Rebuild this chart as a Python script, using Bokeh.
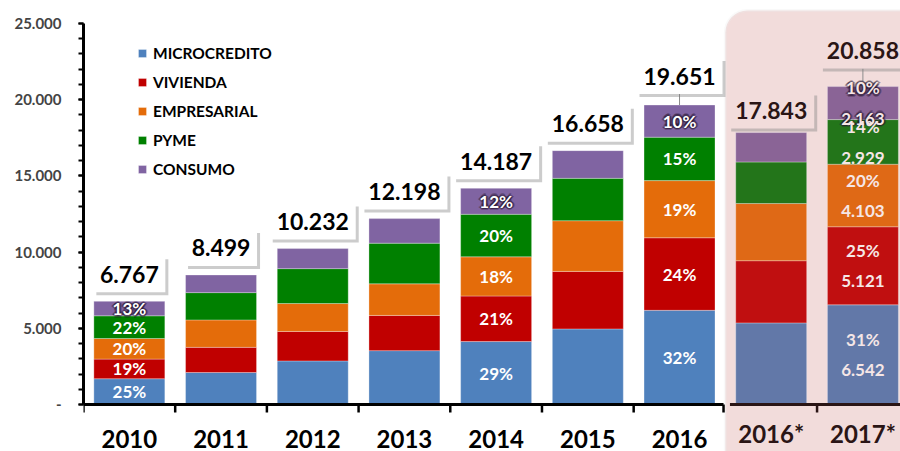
from bokeh.plotting import figure
from bokeh.models import (ColumnDataSource, Legend, LegendItem, BoxAnnotation,
                          Range1d, FixedTicker)
from bokeh.core.properties import value
from bokeh.embed import file_html
from bokeh.resources import INLINE

# ---------------- data ----------------
categories = ["2010", "2011", "2012", "2013", "2014", "2015", "2016", "2016*", "2017*"]
projected = ["2016*", "2017*"]

series_names = ["MICROCREDITO", "VIVIENDA", "EMPRESARIAL", "PYME", "CONSUMO"]
microcredito = [1692, 2100, 2860, 3535, 4130, 4960, 6180, 5355, 6542]
vivienda     = [1286, 1650, 1935, 2310, 2990, 3775, 4760, 4080, 5121]
empresarial  = [1353, 1800, 1830, 2075, 2570, 3325, 3750, 3750, 4103]
pyme         = [1489, 1790, 2290, 2665, 2790, 2780, 2850, 2730, 2929]
consumo      = [947, 1159, 1317, 1613, 1707, 1818, 2111, 1928, 2163]
series_values = [microcredito, vivienda, empresarial, pyme, consumo]

# share labels printed inside segments (bottom -> top)
pct_labels = {
    "2010": ["25%", "19%", "20%", "22%", "13%"],
    "2014": ["29%", "21%", "18%", "20%", "12%"],
    "2016": ["32%", "24%", "19%", "15%", "10%"],
    "2017*": ["31%", "25%", "20%", "14%", "10%"],
}
with_amount = ["2017*"]

y_ticks = [0, 5000, 10000, 15000, 20000, 25000]

# ---------------- style ----------------
FONT = "Lato"
colors_main = ["#4F81BD", "#C00000", "#E46C0A", "#008000", "#8064A2"]
colors_proj = ["#6278A8", "#C00F10", "#DF6916", "#23751A", "#8A6496"]
PINK = "#F2DCDB"
DARK = "#2A1515"
BAR_W = 0.774
PXY = 381 / 25000.0          # pixels per unit on the y axis
PXX = 91.7                   # pixels per category
LABEL_GAP = 9                # px between bar top and total box
BOX_H = 36                   # px height of total boxes
extra_lift = {"2016": 2, "2016*": -5, "2017*": 9}   # px, label placement tweaks
leader_for = ["2016", "2017*"]


def fmt(v):
    return f"{v:,}".replace(",", ".")


n = len(categories)
xc = [i + 0.5 for i in range(n)]
proj = [c in projected for c in categories]
totals = [sum(s[i] for s in series_values) for i in range(n)]

p = figure(width=900, height=451, output_backend="svg", toolbar_location=None,
           x_range=Range1d(0, 8.91), y_range=Range1d(-47 / PXY, 404 / PXY),
           x_axis_location=None, min_border_left=83, min_border_right=0,
           min_border_top=0, min_border_bottom=0)
p.grid.visible = False
p.outline_line_color = None
p.background_fill_color = "white"
p.border_fill_color = "white"

# pink highlight panel for the projected years
p.add_layout(BoxAnnotation(left=7.0, right=9.4, top=25850, bottom=-5000,
                           fill_color=PINK, fill_alpha=1.0,
                           line_color="#EBEBEB", line_width=3,
                           border_radius=22, level="underlay"))

# ---------------- bars ----------------
renderers = []
bottoms = [0] * n
mids = []
for name, vals, cm, cp in zip(series_names, series_values, colors_main, colors_proj):
    tops = [b + v for b, v in zip(bottoms, vals)]
    src = ColumnDataSource(dict(x=xc, bottom=bottoms, top=tops,
                                color=[cp if pr else cm for pr in proj]))
    r = p.vbar(x="x", width=BAR_W, bottom="bottom", top="top", source=src,
               fill_color="color", line_color="white", line_alpha=0.3, line_width=1)
    renderers.append(r)
    mids.append([(b + t) / 2 for b, t in zip(bottoms, tops)])
    bottoms = tops

# ---------------- x axis (drawn) ----------------
tick_len = 8 / PXY
p.segment(x0=[0, 7.05], x1=[6.98, 9.0], y0=[0, 0], y1=[0, 0],
          line_color=["black", DARK], line_width=3)
tx = list(range(7)) + [6.98, 8]
p.segment(x0=tx, x1=tx, y0=[0] * len(tx), y1=[-tick_len] * len(tx),
          line_color=["black"] * 8 + [DARK], line_width=2.5)
p.text(x=xc, y=[0] * n, text=categories, text_align="center", text_baseline="bottom",
       y_offset=43, text_font=value(FONT), text_font_style="bold", text_font_size="24px",
       text_color=[DARK if pr else "black" for pr in proj])

# ---------------- y axis ----------------
ya = p.yaxis[0]
ya.ticker = FixedTicker(ticks=y_ticks, minor_ticks=list(range(0, 25001, 1000)))
ya.major_label_overrides = {t: ("-" if t == 0 else fmt(t)) for t in y_ticks}
ya.bounds = (0, 25000)
ya.axis_line_width = 3
ya.axis_line_color = "black"
ya.major_tick_out = 5
ya.major_tick_in = 0
ya.minor_tick_out = 5
ya.minor_tick_in = 0
ya.major_tick_line_width = 2
ya.minor_tick_line_width = 2
ya.major_label_text_font = FONT
ya.major_label_text_font_style = "bold"
ya.major_label_text_font_size = "15px"
ya.major_label_standoff = 17

# ---------------- total labels ----------------
lift = [LABEL_GAP + extra_lift.get(c, 0) for c in categories]
tot_text = [fmt(t) for t in totals]
box_y = [t + (l + BOX_H / 2) / PXY for t, l in zip(totals, lift)]
tot_src = ColumnDataSource(dict(
    x=xc, y=box_y, text=tot_text,
    sx=[x + 3 / PXX for x in xc], sy=[y - 3 / PXY for y in box_y],
    w=[14 * len(s) + 2 for s in tot_text],
    bg=[PINK if pr else "white" for pr in proj],
    tc=[DARK if pr else "black" for pr in proj]))
# leader lines
lead_i = [categories.index(c) for c in leader_for]
p.segment(x0=[xc[i] for i in lead_i], x1=[xc[i] for i in lead_i],
          y0=[totals[i] for i in lead_i], y1=[totals[i] + lift[i] / PXY for i in lead_i],
          line_color="#8C8C8C", line_width=1)
# shadow + box
p.rect(x="sx", y="sy", width="w", height=BOX_H, width_units="screen",
       height_units="screen", source=tot_src, fill_color="#7F7F7F",
       fill_alpha=0.4, line_color=None)
p.rect(x="x", y="y", width="w", height=BOX_H, width_units="screen",
       height_units="screen", source=tot_src, fill_color="bg", line_color=None)
p.text(x="x", y="y", text="text", source=tot_src, text_align="center",
       text_baseline="middle", text_color="tc",
       text_font=value(FONT), text_font_style="bold", text_font_size="23px")

# ---------------- percent labels ----------------
lx, ly, lt, lc, glow_x, glow_y, glow_t = [], [], [], [], [], [], []
for ci, cat in enumerate(categories):
    if cat not in pct_labels:
        continue
    for k, lab in enumerate(pct_labels[cat]):
        txt = lab + ("\n" + fmt(series_values[k][ci]) if cat in with_amount else "")
        lx.append(xc[ci]); ly.append(mids[k][ci]); lt.append(txt)
        lc.append("#F5E6E6" if cat in projected else "white")
        if k == len(series_names) - 1:
            glow_x.append(xc[ci]); glow_y.append(mids[k][ci]); glow_t.append(txt)

for dx, dy in [(-1.5, 0), (1.5, 0), (0, -1.5), (0, 1.5), (-1.2, -1.2), (1.2, 1.2),
               (-1.2, 1.2), (1.2, -1.2), (-2.5, 0), (2.5, 0), (0, 2.5), (0, -2.5)]:
    p.text(x=glow_x, y=glow_y, text=glow_t, text_align="center", text_baseline="middle",
           x_offset=dx, y_offset=dy, text_color="#24142E", text_alpha=0.3,
           text_line_height=1.45,
           text_font=value(FONT), text_font_style="bold", text_font_size="17px")

p.text(x=lx, y=ly, text=lt, text_align="center", text_baseline="middle",
       text_color=lc, text_line_height=1.45,
       text_font=value(FONT), text_font_style="bold", text_font_size="17px")

# ---------------- legend ----------------
items = [LegendItem(label=value(nm), renderers=[r], index=0)
         for nm, r in zip(series_names, renderers)]
legend = Legend(items=items, location=(54, 273), padding=0, margin=0,
                border_line_color=None, background_fill_alpha=0,
                glyph_width=10, glyph_height=10, label_height=10, spacing=11,
                label_standoff=6, label_text_font=FONT, label_text_font_style="bold",
                label_text_font_size="15.5px", label_text_color="black")
p.add_layout(legend)

open("out.html", "w").write(file_html(p, INLINE))
